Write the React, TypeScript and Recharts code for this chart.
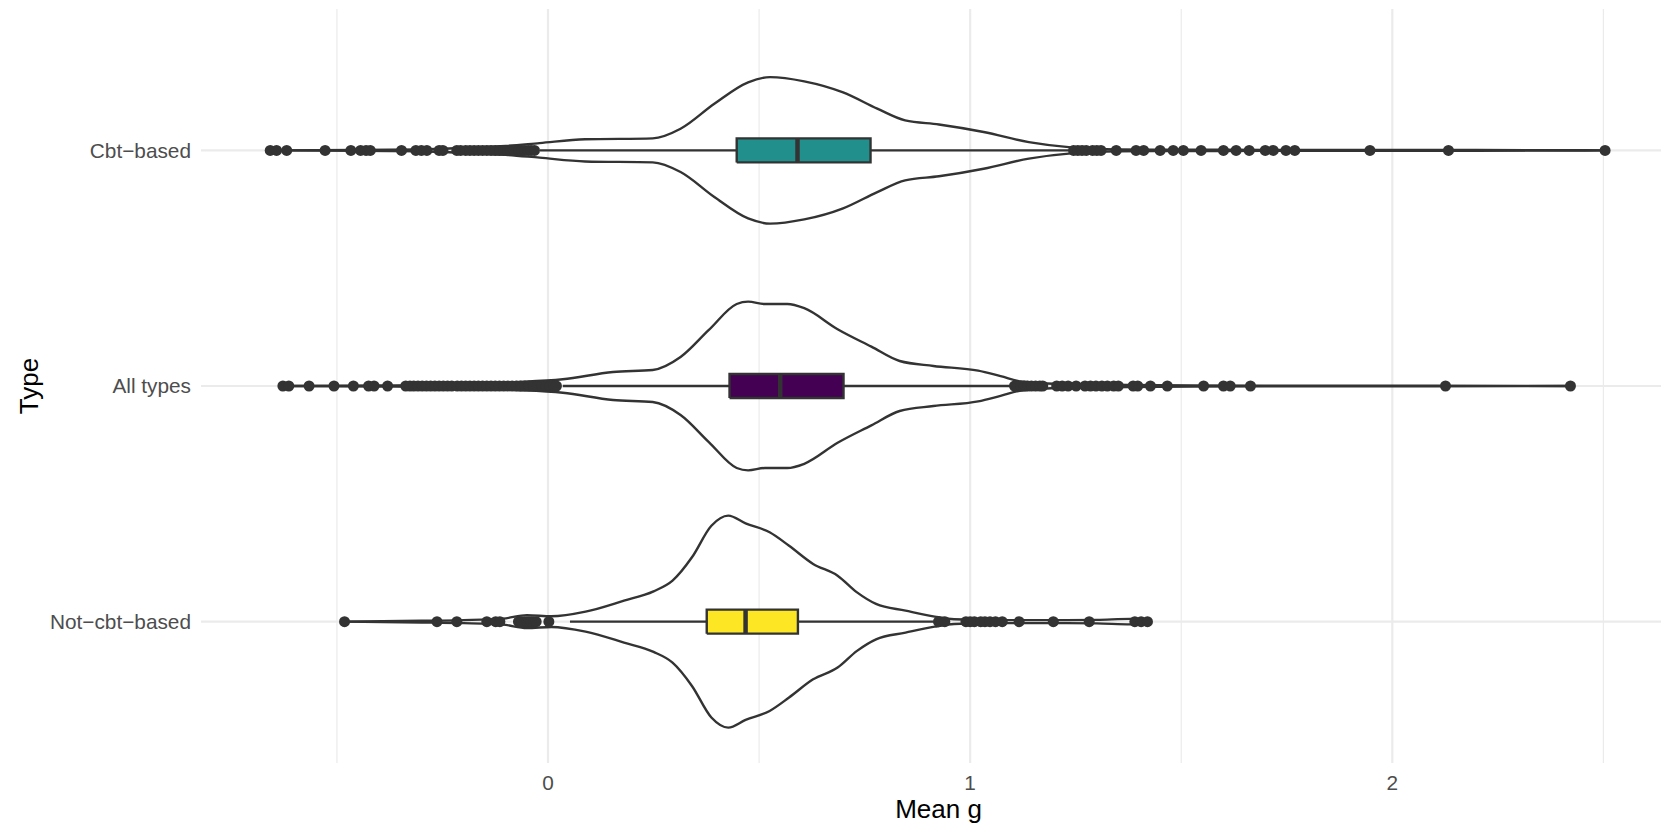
import React from 'react';
import { ComposedChart, Scatter, XAxis, YAxis, CartesianGrid } from 'recharts';

// y positions: 1 = bottom, 3 = top
const categories = ['Not−cbt−based', 'All types', 'Cbt−based'];
const boxColors = ['#FDE725', '#440154', '#21908C'];

// violin outlines: x and half-width (category units)
const cbtViolinX = [-0.658, -0.45, -0.3, -0.19, -0.1, -0.02, 0.088, 0.248, 0.314, 0.394, 0.474, 0.526, 0.607, 0.699, 0.78, 0.846, 0.926, 1.032, 1.139, 1.245, 1.35, 1.6, 1.8, 2.0, 2.2, 2.504];
const cbtViolinW = [0, 0.0013, 0.0034, 0.0115, 0.019, 0.031, 0.047, 0.051, 0.092, 0.198, 0.289, 0.311, 0.293, 0.246, 0.177, 0.127, 0.11, 0.078, 0.035, 0.0115, 0.004, 0.0025, 0.0017, 0.0013, 0.0013, 0];

const allViolinX = [-0.628, -0.4, -0.218, -0.085, 0.035, 0.154, 0.248, 0.314, 0.381, 0.447, 0.474, 0.514, 0.567, 0.607, 0.686, 0.766, 0.833, 0.913, 1.019, 1.072, 1.125, 1.25, 1.45, 1.7, 2.1, 2.422];
const allViolinW = [0, 0.0021, 0.0064, 0.0157, 0.0284, 0.0594, 0.0679, 0.123, 0.238, 0.348, 0.358, 0.348, 0.348, 0.33, 0.241, 0.167, 0.106, 0.085, 0.065, 0.042, 0.018, 0.0064, 0.0034, 0.0013, 0.0013, 0];

const notViolinX = [-0.482, -0.3, -0.2, -0.107, -0.05, 0.008, 0.089, 0.18, 0.25, 0.295, 0.341, 0.387, 0.427, 0.468, 0.525, 0.571, 0.628, 0.686, 0.732, 0.777, 0.847, 0.916, 0.962, 1.05, 1.2, 1.3, 1.38, 1.42];
const notViolinW = [0, 0.0034, 0.0064, 0.0127, 0.0276, 0.0225, 0.0424, 0.089, 0.1286, 0.174, 0.273, 0.407, 0.45, 0.417, 0.379, 0.322, 0.245, 0.195, 0.124, 0.075, 0.0467, 0.0212, 0.0098, 0.0064, 0.0064, 0.0076, 0.0115, 0];

// box stats: lower whisker, q1, median, q3, upper whisker
const cbtBox = [-0.019, 0.447, 0.591, 0.764, 1.238];
const allBox = [0.035, 0.43, 0.55, 0.7, 1.099];
const notBox = [0.052, 0.376, 0.468, 0.592, 0.916];

// outlier points
const cbtPoints = [-0.658, -0.643, -0.619, -0.528, -0.467, -0.444, -0.431, -0.421, -0.347, -0.313, -0.3, -0.287, -0.258, -0.249, -0.216, -0.207,
  -0.195, -0.185, -0.175, -0.165, -0.155, -0.145, -0.135, -0.125, -0.115, -0.105, -0.095, -0.088, -0.08, -0.07, -0.062, -0.055, -0.047, -0.04, -0.032,
  1.245, 1.255, 1.265, 1.275, 1.29, 1.3, 1.31, 1.346, 1.393, 1.411, 1.45, 1.481, 1.505, 1.547, 1.6, 1.63, 1.661, 1.699, 1.718, 1.748, 1.769, 1.947, 2.133, 2.504];
const allPoints = [-0.628, -0.614, -0.566, -0.507, -0.461, -0.425, -0.412, -0.38, -0.337, -0.327, -0.318, -0.308, -0.298, -0.288, -0.278, -0.268, -0.258, -0.248, -0.238, -0.228,
  -0.215, -0.205, -0.195, -0.185, -0.175, -0.165, -0.155, -0.145, -0.135, -0.125, -0.115, -0.105, -0.095, -0.085, -0.075, -0.065, -0.055, -0.045, -0.035, -0.025, -0.015, -0.005, 0.005, 0.013, 0.02,
  1.105, 1.112, 1.12, 1.128, 1.136, 1.145, 1.155, 1.165, 1.172, 1.205, 1.218, 1.232, 1.251, 1.272, 1.285, 1.298, 1.312, 1.325, 1.34, 1.351, 1.386, 1.397, 1.427, 1.467, 1.553, 1.6, 1.616, 1.664, 2.126, 2.422];
const notPoints = [-0.482, -0.263, -0.216, -0.145, -0.124, -0.114, -0.07, -0.063, -0.056, -0.05, -0.045, -0.04, -0.035, -0.028, 0.002,
  0.925, 0.94, 0.99, 1.0, 1.01, 1.025, 1.035, 1.047, 1.06, 1.076, 1.116, 1.197, 1.282, 1.39, 1.405, 1.42];

const xTicks = [0, 1, 2];
const xMinor = [-0.5, 0.5, 1.5, 2.5];
const yTicks = [1, 2, 3];

const BOX_HALF = 0.051;
const DARK = '#333333';
const FONT = '"Liberation Sans", Arial, sans-serif';

const groups = [
  { pos: 1, vx: notViolinX, vw: notViolinW, box: notBox, pts: notPoints, fill: boxColors[0] },
  { pos: 2, vx: allViolinX, vw: allViolinW, box: allBox, pts: allPoints, fill: boxColors[1] },
  { pos: 3, vx: cbtViolinX, vw: cbtViolinW, box: cbtBox, pts: cbtPoints, fill: boxColors[2] },
];

const noDot = () => <g />;
const dot = (p: any) => <circle cx={p.cx} cy={p.cy} r={5.5} fill={DARK} />;

const XTick = (props: any) => (
  <text x={props.x} y={props.y} dy={27} textAnchor="middle" fill="#4D4D4D" fontSize={20.8} fontFamily={FONT}>
    {props.payload.value}
  </text>
);

const TypeLabel = (props: any) => {
  const vb = props.viewBox;
  const cy = vb.y + vb.height / 2;
  return (
    <text x={38} y={cy} transform={`rotate(-90, 38, ${cy})`} textAnchor="middle" fill="#000" fontSize={26} fontFamily={FONT}>
      Type
    </text>
  );
};

export default function App() {
  const series: React.ReactNode[] = [];
  groups.forEach((g) => {
    const [lo, q1, med, q3, hi] = g.box;
    const upper = g.vx.map((x, i) => ({ x, y: g.pos + g.vw[i] }));
    const lower = g.vx.map((x, i) => ({ x, y: g.pos - g.vw[i] }));
    const rect = [
      { x: q1, y: g.pos - BOX_HALF }, { x: q3, y: g.pos - BOX_HALF },
      { x: q3, y: g.pos + BOX_HALF }, { x: q1, y: g.pos + BOX_HALF }, { x: q1, y: g.pos - BOX_HALF },
    ];
    const lineStyle = { stroke: DARK, strokeWidth: 2.4 };
    series.push(
      <Scatter key={`vu${g.pos}`} data={upper} line={lineStyle} lineJointType="monotoneX" shape={noDot} isAnimationActive={false} />,
      <Scatter key={`vl${g.pos}`} data={lower} line={lineStyle} lineJointType="monotoneX" shape={noDot} isAnimationActive={false} />,
      <Scatter key={`wl${g.pos}`} data={[{ x: lo, y: g.pos }, { x: q1, y: g.pos }]} line={lineStyle} shape={noDot} isAnimationActive={false} />,
      <Scatter key={`wh${g.pos}`} data={[{ x: q3, y: g.pos }, { x: hi, y: g.pos }]} line={lineStyle} shape={noDot} isAnimationActive={false} />,
      <Scatter key={`bx${g.pos}`} data={rect} line={{ stroke: DARK, strokeWidth: 2.4, fill: g.fill }} shape={noDot} isAnimationActive={false} />,
      <Scatter key={`md${g.pos}`} data={[{ x: med, y: g.pos - BOX_HALF }, { x: med, y: g.pos + BOX_HALF }]} line={{ stroke: DARK, strokeWidth: 4.5 }} shape={noDot} isAnimationActive={false} />,
      <Scatter key={`pt${g.pos}`} data={g.pts.map((x) => ({ x, y: g.pos }))} shape={dot} isAnimationActive={false} />
    );
  });

  return (
    <div style={{ position: 'absolute', left: 0, top: 0, width: 1661, height: 829, overflow: 'hidden', background: '#fff' }}>
      <ComposedChart width={1683} height={829} margin={{ top: 9, right: 7, bottom: 0, left: 0 }}>
        <CartesianGrid horizontal={false} verticalValues={xMinor} stroke="#EBEBEB" strokeWidth={1.2} />
        <CartesianGrid horizontalValues={yTicks} verticalValues={xTicks} stroke="#EBEBEB" strokeWidth={2.2} />
        <XAxis
          type="number"
          dataKey="x"
          domain={[-0.822, 2.672]}
          ticks={xTicks}
          allowDataOverflow
          axisLine={false}
          tickLine={false}
          tickSize={0}
          tickMargin={0}
          height={66}
          tick={XTick}
          label={{ value: 'Mean g', position: 'insideBottom', offset: 11, fill: '#000', fontSize: 26, fontFamily: FONT }}
        />
        <YAxis
          type="number"
          dataKey="y"
          domain={[0.4, 3.6]}
          ticks={yTicks}
          allowDataOverflow
          axisLine={false}
          tickLine={false}
          tickSize={0}
          tickMargin={10}
          width={201}
          tickFormatter={(v: number) => categories[v - 1]}
          tick={{ fill: '#4D4D4D', fontSize: 20.8, fontFamily: FONT }}
          label={{ content: TypeLabel }}
        />
        {series}
      </ComposedChart>
    </div>
  );
}
